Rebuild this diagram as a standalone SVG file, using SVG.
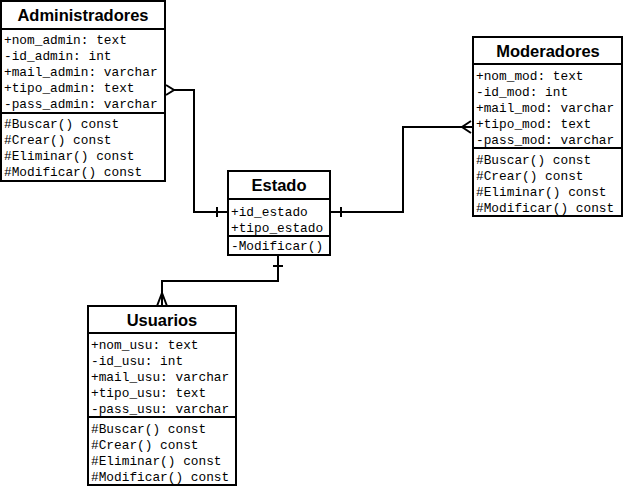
<svg xmlns="http://www.w3.org/2000/svg" width="624" height="489" viewBox="0 0 624 489">
<style>
.box{fill:#fff;stroke:#000;stroke-width:2}
.div{stroke:#000;stroke-width:2}
.t{font-family:"Liberation Sans",Arial,sans-serif;font-weight:bold;font-size:16.5px;text-anchor:middle;fill:#000}
.m{font-family:"Liberation Mono","Courier New",monospace;font-size:12.8px;fill:#000}
.c{fill:none;stroke:#000;stroke-width:2}
</style>
<rect width="624" height="489" fill="#fff"/>
<g id="connectors">
<path class="c" d="M174 90 H194 V212 H228"/>
<path class="c" d="M166 85 L174 90 L166 95"/>
<path class="c" d="M217 207 V217"/>
<path class="c" d="M330 212 H403 V127 H472"/>
<path class="c" d="M471 121 L462 127 L471 133"/>
<path class="c" d="M341 207 V217"/>
<path class="c" d="M278 255 V281 H162 V306"/>
<path class="c" d="M157 306 L162 293 L167 306"/>
<path class="c" d="M273 266 H283"/>
</g>
<g id="administradores">
<rect class="box" x="1" y="1" width="164" height="180"/>
<line class="div" x1="1" y1="29" x2="165" y2="29"/>
<line class="div" x1="1" y1="113" x2="165" y2="113"/>
<text class="t" x="83" y="21">Administradores</text>
<text class="m" x="4" y="44">+nom_admin: text</text>
<text class="m" x="4" y="60">-id_admin: int</text>
<text class="m" x="4" y="76">+mail_admin: varchar</text>
<text class="m" x="4" y="92">+tipo_admin: text</text>
<text class="m" x="4" y="108">-pass_admin: varchar</text>
<text class="m" x="4" y="128">#Buscar() const</text>
<text class="m" x="4" y="144">#Crear() const</text>
<text class="m" x="4" y="160">#Eliminar() const</text>
<text class="m" x="4" y="176">#Modificar() const</text>
</g>
<g id="moderadores">
<rect class="box" x="473" y="37" width="149" height="179"/>
<line class="div" x1="473" y1="64" x2="622" y2="64"/>
<line class="div" x1="473" y1="148" x2="622" y2="148"/>
<text class="t" x="548" y="57">Moderadores</text>
<text class="m" x="476" y="80">+nom_mod: text</text>
<text class="m" x="476" y="96">-id_mod: int</text>
<text class="m" x="476" y="112">+mail_mod: varchar</text>
<text class="m" x="476" y="128">+tipo_mod: text</text>
<text class="m" x="476" y="144">-pass_mod: varchar</text>
<text class="m" x="476" y="164">#Buscar() const</text>
<text class="m" x="476" y="180">#Crear() const</text>
<text class="m" x="476" y="196">#Eliminar() const</text>
<text class="m" x="476" y="212">#Modificar() const</text>
</g>
<g id="estado">
<rect class="box" x="228" y="171" width="102" height="84"/>
<line class="div" x1="228" y1="199" x2="330" y2="199"/>
<line class="div" x1="228" y1="236" x2="330" y2="236"/>
<text class="t" x="279" y="191">Estado</text>
<text class="m" x="231" y="216">+id_estado</text>
<text class="m" x="231" y="232">+tipo_estado</text>
<text class="m" x="231" y="250">-Modificar()</text>
</g>
<g id="usuarios">
<rect class="box" x="88" y="306" width="148" height="179"/>
<line class="div" x1="88" y1="333" x2="236" y2="333"/>
<line class="div" x1="88" y1="417" x2="236" y2="417"/>
<text class="t" x="162" y="326">Usuarios</text>
<text class="m" x="91" y="349">+nom_usu: text</text>
<text class="m" x="91" y="365">-id_usu: int</text>
<text class="m" x="91" y="381">+mail_usu: varchar</text>
<text class="m" x="91" y="397">+tipo_usu: text</text>
<text class="m" x="91" y="413">-pass_usu: varchar</text>
<text class="m" x="91" y="433">#Buscar() const</text>
<text class="m" x="91" y="449">#Crear() const</text>
<text class="m" x="91" y="465">#Eliminar() const</text>
<text class="m" x="91" y="481">#Modificar() const</text>
</g>
</svg>
